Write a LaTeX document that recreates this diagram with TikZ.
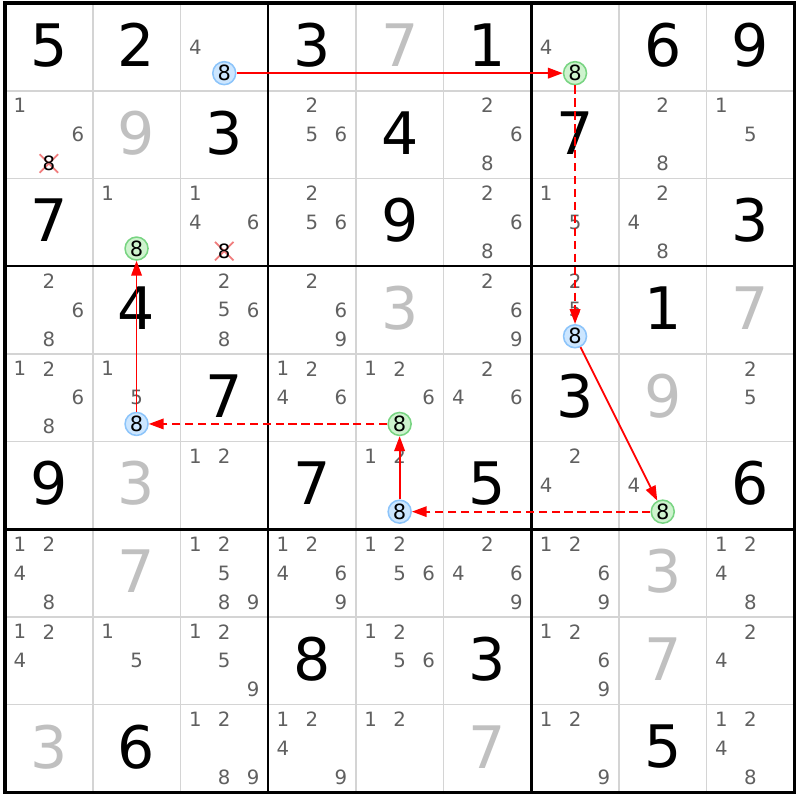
\documentclass[tikz,border=0pt]{standalone}
\usepackage{fontspec}
\setmainfont{DejaVu Sans}
\usetikzlibrary{arrows.meta,shapes.misc}
\definecolor{thingrid}{RGB}{212,212,212}
\definecolor{solvedgray}{RGB}{192,192,192}
\definecolor{candgray}{RGB}{96,96,96}
\definecolor{chainred}{RGB}{255,0,0}
\definecolor{bluefill}{RGB}{204,230,255}
\definecolor{bluedraw}{RGB}{140,196,250}
\definecolor{greenfill}{RGB}{206,243,206}
\definecolor{greendraw}{RGB}{120,212,130}
\definecolor{crossred}{RGB}{240,125,125}
\begin{document}
\begin{tikzpicture}[x=1cm,y=-1cm,
  given/.style={inner sep=0pt,font=\fontsize{19}{19}\selectfont},
  solved/.style={given,text=solvedgray},
  cand/.style={inner sep=0pt,text=candgray,font=\fontsize{6.4}{6.4}\selectfont},
  candblack/.style={cand,text=black},
  blueeight/.style={circle,draw=bluedraw,fill=bluefill,line width=0.5pt,minimum size=0.262cm,inner sep=0pt,font=\fontsize{6.8}{6.8}\selectfont},
  greeneight/.style={blueeight,draw=greendraw,fill=greenfill},
  crossx/.style={cross out,draw=crossred,line width=0.6pt,minimum size=0.19cm,inner sep=0pt},
  strongarrow/.style={color=chainred,line width=0.6pt,-{Triangle[length=4.8pt,width=3.4pt]}},
  weakarrow/.style={strongarrow,dash pattern=on 2.7pt off 1.5pt}]
 \useasboundingbox (-0.057,-0.034) rectangle (9.065,9.088);
 % grid
 \foreach \i in {1,2,4,5,7,8} {
  \draw[thingrid,line width=0.55pt] (\i,0) -- (\i,9);
  \draw[thingrid,line width=0.55pt] (0,\i) -- (9,\i);
 }
 \foreach \i in {3,6} {
  \draw[line width=0.9pt] (\i,0) -- (\i,9);
  \draw[line width=0.9pt] (0,\i) -- (9,\i);
 }
 \draw[line width=1.1pt] (0,0) rectangle (9,9);
 % givens
 \node[given] (g00) at (0.5,0.48) {5};
 \node[given] (g01) at (1.5,0.48) {2};
 \node[given] (g03) at (3.5,0.48) {3};
 \node[solved] (g04) at (4.5,0.48) {7};
 \node[given] (g05) at (5.5,0.48) {1};
 \node[given] (g07) at (7.5,0.48) {6};
 \node[given] (g08) at (8.5,0.48) {9};
 \node[solved] (g11) at (1.5,1.48) {9};
 \node[given] (g12) at (2.5,1.48) {3};
 \node[given] (g14) at (4.5,1.48) {4};
 \node[given] (g16) at (6.5,1.48) {7};
 \node[given] (g20) at (0.5,2.48) {7};
 \node[given] (g24) at (4.5,2.48) {9};
 \node[given] (g28) at (8.5,2.48) {3};
 \node[given] (g31) at (1.5,3.48) {4};
 \node[solved] (g34) at (4.5,3.48) {3};
 \node[given] (g37) at (7.5,3.48) {1};
 \node[solved] (g38) at (8.5,3.48) {7};
 \node[given] (g42) at (2.5,4.48) {7};
 \node[given] (g46) at (6.5,4.48) {3};
 \node[solved] (g47) at (7.5,4.48) {9};
 \node[given] (g50) at (0.5,5.48) {9};
 \node[solved] (g51) at (1.5,5.48) {3};
 \node[given] (g53) at (3.5,5.48) {7};
 \node[given] (g55) at (5.5,5.48) {5};
 \node[given] (g58) at (8.5,5.48) {6};
 \node[solved] (g61) at (1.5,6.48) {7};
 \node[solved] (g67) at (7.5,6.48) {3};
 \node[given] (g73) at (3.5,7.48) {8};
 \node[given] (g75) at (5.5,7.48) {3};
 \node[solved] (g77) at (7.5,7.48) {7};
 \node[solved] (g80) at (0.5,8.48) {3};
 \node[given] (g81) at (1.5,8.48) {6};
 \node[solved] (g85) at (5.5,8.48) {7};
 \node[given] (g87) at (7.5,8.48) {5};
 % candidates
 \foreach \r/\c/\ds in {0/2/{4},0/6/{4},
   1/0/{1,6},1/3/{2,5,6},1/5/{2,6,8},1/7/{2,8},1/8/{1,5},
   2/1/{1},2/2/{1,4,6},2/3/{2,5,6},2/5/{2,6,8},2/6/{1,5},2/7/{2,4,8},
   3/0/{2,6,8},3/2/{2,5,6,8},3/3/{2,6,9},3/5/{2,6,9},3/6/{2,5},
   4/0/{1,2,6,8},4/1/{1,5},4/3/{1,2,4,6},4/4/{1,2,6},4/5/{2,4,6},4/8/{2,5},
   5/2/{1,2},5/4/{1,2},5/6/{2,4},5/7/{4},
   6/0/{1,2,4,8},6/2/{1,2,5,8,9},6/3/{1,2,4,6,9},6/4/{1,2,5,6},6/5/{2,4,6,9},6/6/{1,2,6,9},6/8/{1,2,4,8},
   7/0/{1,2,4},7/1/{1,5},7/2/{1,2,5,9},7/4/{1,2,5,6},7/6/{1,2,6,9},7/8/{2,4},
   8/2/{1,2,8,9},8/3/{1,2,4,9},8/4/{1,2},8/6/{1,2,9},8/8/{1,2,4,8}}
  \foreach \d in \ds
   \node[cand] (k\r\c\d) at ({\c+0.17+0.33*mod(\d-1,3)},{\r+0.17+0.33*div(\d-1,3)}) {\d};
 % eliminated
 \node[crossx] (xa) at (0.5,1.83) {};
 \node[candblack] (k108) at (0.5,1.83) {8};
 \node[crossx] (xb) at (2.5,2.83) {};
 \node[candblack] (k228) at (2.5,2.83) {8};
 % chain
 \node[blueeight] (b02) at (2.5,0.8) {8};
 \node[greeneight] (n06) at (6.5,0.8) {8};
 \node[blueeight] (b36) at (6.5,3.8) {8};
 \node[greeneight] (n57) at (7.5,5.8) {8};
 \node[blueeight] (b54) at (4.5,5.8) {8};
 \node[greeneight] (n44) at (4.5,4.8) {8};
 \node[blueeight] (b41) at (1.5,4.8) {8};
 \node[greeneight] (n21) at (1.5,2.8) {8};
 \draw[strongarrow] (b02) -- (n06);
 \draw[weakarrow] (n06) -- (b36);
 \draw[strongarrow] (b36) -- (n57);
 \draw[weakarrow] (n57) -- (b54);
 \draw[strongarrow] (b54) -- (n44);
 \draw[weakarrow] (n44) -- (b41);
 \draw[strongarrow] (b41) -- (n21);
\end{tikzpicture}
\end{document}
